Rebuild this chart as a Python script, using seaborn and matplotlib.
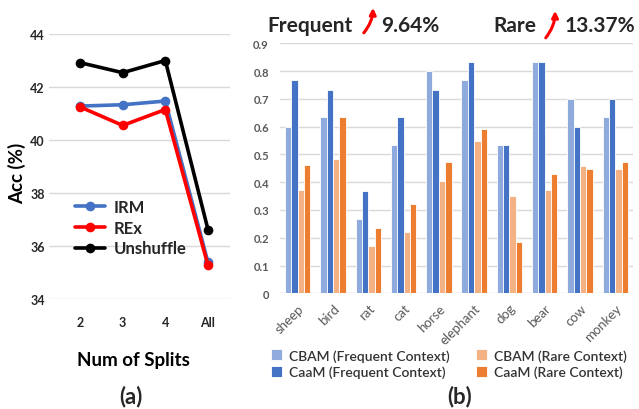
import matplotlib
matplotlib.use('Agg')
import matplotlib.pyplot as plt
import seaborn as sns
import pandas as pd

# ---------------- data ----------------
splits = ['2', '3', '4', 'All']
irm = [41.28, 41.33, 41.47, 35.38]
rex = [41.25, 40.55, 41.15, 35.27]
unshuffle = [42.92, 42.54, 43.00, 36.62]
methods = ['IRM', 'REx', 'Unshuffle']

animals = ['sheep', 'bird', 'rat', 'cat', 'horse', 'elephant', 'dog', 'bear', 'cow', 'monkey']
cbam_freq = [0.600, 0.633, 0.267, 0.533, 0.800, 0.767, 0.533, 0.833, 0.700, 0.633]
caam_freq = [0.767, 0.733, 0.367, 0.633, 0.733, 0.833, 0.533, 0.833, 0.600, 0.700]
cbam_rare = [0.371, 0.485, 0.170, 0.221, 0.406, 0.548, 0.349, 0.371, 0.457, 0.449]
caam_rare = [0.463, 0.635, 0.235, 0.322, 0.472, 0.593, 0.185, 0.428, 0.449, 0.472]
models = ['CBAM (Frequent Context)', 'CaaM (Frequent Context)',
          'CBAM (Rare Context)', 'CaaM (Rare Context)']
y_ticks_right = [0, 0.1, 0.2, 0.3, 0.4, 0.5, 0.6, 0.7, 0.8, 0.9]
y_tick_labels_right = ['0', '0.1', '0.2', '0.3', '0.4', '0.5', '0.6', '0.7', '0.8', '0.9']
y_ticks_left = [34, 36, 38, 40, 42, 44]

# ---------------- style ----------------
sns.set_theme(style='white')
plt.rcParams['font.family'] = ['Lato', 'DejaVu Sans']

W, H = 639, 410
fig = plt.figure(figsize=(W / 100, H / 100), dpi=100)

axL = fig.add_axes([49 / W, 1 - 300 / H, 181 / W, 265 / H])
axR = fig.add_axes([280 / W, 1 - 294.3 / H, 353 / W, 250 / H])

# ---------------- left: line chart ----------------
dfL = pd.DataFrame({
    'split': splits * 3,
    'acc': irm + rex + unshuffle,
    'method': ['IRM'] * 4 + ['REx'] * 4 + ['Unshuffle'] * 4,
})
palL = {'IRM': '#4472C4', 'REx': '#FF0000', 'Unshuffle': '#000000'}
sns.pointplot(data=dfL, x='split', y='acc', hue='method', hue_order=methods,
              palette=palL, markers='o', linestyles='-', errorbar=None,
              ax=axL, markersize=5, linewidth=2.6)
axL.set_ylim(34, 44)
axL.set_xlim(-0.727, 3.516)
axL.set_yticks(y_ticks_left)
axL.yaxis.grid(True, color='#D9D9D9', linewidth=1)
axL.set_axisbelow(True)
for s in axL.spines.values():
    s.set_visible(False)
axL.tick_params(axis='both', length=0, labelsize=9, colors='#262626')
axL.tick_params(axis='y', pad=3)
axL.tick_params(axis='x', pad=12)
for t in axL.get_xticklabels() + axL.get_yticklabels():
    t.set_fontweight('bold')
axL.set_ylabel('Acc (%)', fontsize=13.5, fontweight='bold', color='#000000')
axL.yaxis.set_label_coords(-0.125, 0.479)
axL.set_xlabel('Num of Splits', fontsize=13.5, fontweight='bold', color='#000000')
axL.xaxis.set_label_coords(0.464, -0.195)
h, l = axL.get_legend_handles_labels()
if axL.get_legend() is not None:
    axL.get_legend().remove()
axL.legend(h, l, loc='upper left', bbox_to_anchor=(75 / W, 1 - 200 / H),
           bbox_transform=fig.transFigure, frameon=False,
           prop={'weight': 'bold', 'size': 12}, handlelength=1.8,
           handletextpad=0.5, labelspacing=0.28, borderpad=0, borderaxespad=0)

# ---------------- right: grouped bars ----------------
dfR = pd.DataFrame({
    'animal': animals * 4,
    'value': cbam_freq + caam_freq + cbam_rare + caam_rare,
    'model': [models[0]] * 10 + [models[1]] * 10 + [models[2]] * 10 + [models[3]] * 10,
})
palR = {models[0]: '#8FAADC', models[1]: '#4472C4',
        models[2]: '#F4B183', models[3]: '#ED7D31'}
sns.barplot(data=dfR, x='animal', y='value', hue='model', hue_order=models,
            palette=palR, width=0.72, gap=0, edgecolor='white', linewidth=0.6,
            errorbar=None, ax=axR, saturation=1)
axR.set_xlim(-0.5, 9.5)
axR.set_ylim(0, 0.9)
axR.set_yticks(y_ticks_right)
axR.set_yticklabels(y_tick_labels_right)
axR.yaxis.grid(True, color='#D9D9D9', linewidth=1)
axR.set_axisbelow(True)
for s in axR.spines.values():
    s.set_visible(False)
axR.set_xlabel('')
axR.set_ylabel('')
axR.tick_params(axis='both', length=0)
axR.tick_params(axis='y', labelsize=8, colors='#595959', pad=8)
axR.tick_params(axis='x', labelsize=9.5, colors='#595959', pad=6)
for t in axR.get_yticklabels():
    t.set_fontweight('bold')
for t in axR.get_xticklabels():
    t.set_rotation(45)
    t.set_ha('right')
    t.set_rotation_mode('anchor')
sns.move_legend(axR, 'upper left', bbox_to_anchor=(271 / W, 1 - 350 / H),
                bbox_transform=fig.transFigure, ncol=2, frameon=False, title=None,
                prop={'size': 10, 'weight': 'semibold'}, handlelength=0.8,
                handleheight=0.8, handletextpad=0.5, columnspacing=1.9,
                labelspacing=0.3, borderpad=0, borderaxespad=0)
for t in axR.get_legend().get_texts():
    t.set_color('#333333')

# ---------------- annotations ----------------
fig.text(267 / W, 1 - 31.7 / H, 'Frequent', fontsize=15, fontweight='bold', va='baseline')
fig.text(381 / W, 1 - 31.7 / H, '9.64%', fontsize=15, fontweight='bold', va='baseline')
fig.text(493 / W, 1 - 31.7 / H, 'Rare', fontsize=15, fontweight='bold', va='baseline')
fig.text(565 / W, 1 - 31.7 / H, '13.37%', fontsize=15, fontweight='bold', va='baseline')
for (x0, y0, x1, y1) in [(362, 36, 373, 6), (544, 41, 555, 9)]:
    fig.add_artist(matplotlib.patches.FancyArrowPatch(
        (x0 / W, 1 - y0 / H), (x1 / W, 1 - y1 / H), transform=fig.transFigure,
        arrowstyle='-|>', color='#FF0000', lw=2.2, mutation_scale=9,
        connectionstyle='arc3,rad=0.2'))

fig.text(131 / W, 1 - 397 / H, '(a)', fontsize=16, fontweight='bold', ha='center', va='center')
fig.text(460 / W, 1 - 397 / H, '(b)', fontsize=16, fontweight='bold', ha='center', va='center')

fig.savefig('out.png', dpi=100)
